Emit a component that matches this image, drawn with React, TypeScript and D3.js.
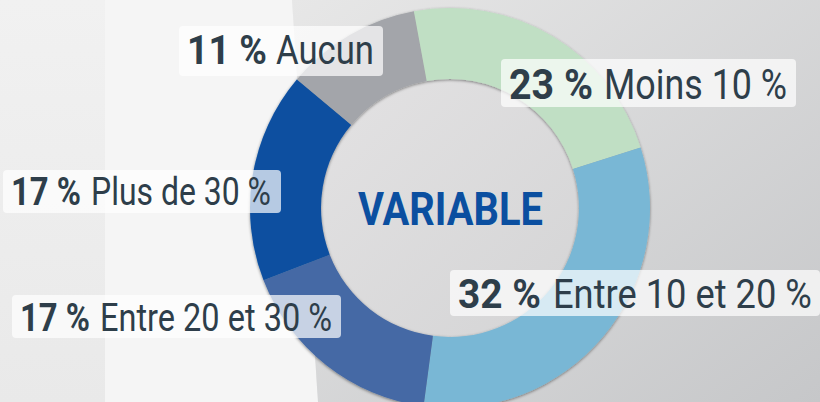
import React, { useLayoutEffect, useRef, useState } from "react";
import * as d3 from "d3";

const categories = ["Aucun", "Moins 10 %", "Entre 10 et 20 %", "Entre 20 et 30 %", "Plus de 30 %"];
const values = [11, 23, 32, 17, 17];
const valueLabels = ["11 %", "23 %", "32 %", "17 %", "17 %"];
const centerTitle = "VARIABLE";

const sliceColors = ["#a3a5aa", "#c0dfc4", "#79b7d5", "#4469a5", "#0b4fa0"];

// label placement (box x,y,w,h ; baseline ; font size ; number x,width ; label x,width)
const labelLayout = [
  { box: [179, 26, 204, 50], base: 64, fs: 41, num: [187, 80], lab: [276, 98] },
  { box: [501, 59, 295, 48], base: 99, fs: 43, num: [509, 84], lab: [604, 183] },
  { box: [450, 270, 370, 46], base: 308, fs: 41, num: [458, 83], lab: [553, 259] },
  { box: [12, 295, 329, 43], base: 331, fs: 38, num: [20, 70], lab: [100, 232] },
  { box: [3, 170, 278, 43], base: 205, fs: 38, num: [11, 70], lab: [91, 180] },
];

const W = 820;
const H = 402;
const cx = 450;
const cy = 208;
const outerR = 200;
const innerR = 129;
const startDeg = -50;
const titleBox = { x: 450.5, base: 225, fs: 46, w: 185 };

export default function App() {
  const pie = d3
    .pie<number>()
    .sort(null)
    .value((d) => d)
    .startAngle((startDeg * Math.PI) / 180)
    .endAngle((startDeg * Math.PI) / 180 + 2 * Math.PI);
  const arcs = pie(values);
  const arcGen = d3.arc<d3.PieArcDatum<number>>().innerRadius(innerR).outerRadius(outerR);
  const font = "Roboto, 'Liberation Sans', Arial, sans-serif";
  const textColor = "#2e3e4a";

  const refs = useRef<(SVGTextElement | null)[]>([]);
  const [scales, setScales] = useState<number[]>(() => new Array(11).fill(0.84));

  const targets: number[] = [];
  labelLayout.forEach((l) => {
    targets.push(l.num[1]);
    targets.push(l.lab[1]);
  });
  targets.push(titleBox.w);

  useLayoutEffect(() => {
    const s = refs.current.map((el, i) => {
      if (!el) return 0.84;
      const w = el.getComputedTextLength();
      return w > 0 ? targets[i] / w : 0.84;
    });
    setScales(s);
  }, []);

  return (
    <div style={{ position: "absolute", left: 0, top: 0 }}>
      <svg width={W} height={H} viewBox={`0 0 ${W} ${H}`} style={{ display: "block" }}>
        <defs>
          <linearGradient id="leftBg" x1="0" y1="0" x2="0" y2="1">
            <stop offset="0" stopColor="#f1f1f1" />
            <stop offset="1" stopColor="#e9e9e9" />
          </linearGradient>
          <linearGradient id="rightBg" x1="0" y1="0" x2="1" y2="1">
            <stop offset="0" stopColor="#e7e7e7" />
            <stop offset="1" stopColor="#c6c7c9" />
          </linearGradient>
          <linearGradient id="holeBg" x1="0" y1="0" x2="1" y2="1">
            <stop offset="0" stopColor="#e3e2e3" />
            <stop offset="1" stopColor="#d4d4d5" />
          </linearGradient>
          <filter id="ringShadow" x="-20%" y="-20%" width="140%" height="140%">
            <feDropShadow dx="0" dy="1" stdDeviation="1.6" floodColor="#000" floodOpacity="0.45" />
          </filter>
        </defs>

        <rect x={0} y={0} width={W} height={H} fill="url(#leftBg)" />
        <polygon points="105,0 292,0 318,402 105,402" fill="#f5f5f5" />
        <polygon points="292,0 820,0 820,402 318,402" fill="url(#rightBg)" />

        <circle cx={cx} cy={cy} r={innerR} fill="url(#holeBg)" />
        <g transform={`translate(${cx},${cy})`} filter="url(#ringShadow)">
          {arcs.map((a, i) => (
            <path key={categories[i]} d={arcGen(a) || ""} fill={sliceColors[i]} />
          ))}
        </g>

        <g transform={`translate(${titleBox.x},${titleBox.base}) scale(${scales[10]},1)`}>
          <text
            ref={(el) => {
              refs.current[10] = el;
            }}
            x={0}
            y={0}
            textAnchor="middle"
            fontFamily={font}
            fontWeight={700}
            fontSize={titleBox.fs}
            fill="#0b4fa0"
          >
            {centerTitle}
          </text>
        </g>

        {labelLayout.map((l, i) => (
          <g key={"lab" + i}>
            <rect
              x={l.box[0]}
              y={l.box[1]}
              width={l.box[2]}
              height={l.box[3]}
              rx={4}
              fill="#ffffff"
              fillOpacity={0.7}
            />
            <g transform={`translate(${l.num[0]},${l.base}) scale(${scales[i * 2]},1)`}>
              <text
                ref={(el) => {
                  refs.current[i * 2] = el;
                }}
                x={0}
                y={0}
                fontFamily={font}
                fontWeight={700}
                fontSize={l.fs}
                fill={textColor}
              >
                {valueLabels[i]}
              </text>
            </g>
            <g transform={`translate(${l.lab[0]},${l.base}) scale(${scales[i * 2 + 1]},1)`}>
              <text
                ref={(el) => {
                  refs.current[i * 2 + 1] = el;
                }}
                x={0}
                y={0}
                fontFamily={font}
                fontWeight={400}
                fontSize={l.fs}
                fill={textColor}
              >
                {categories[i]}
              </text>
            </g>
          </g>
        ))}
      </svg>
    </div>
  );
}
